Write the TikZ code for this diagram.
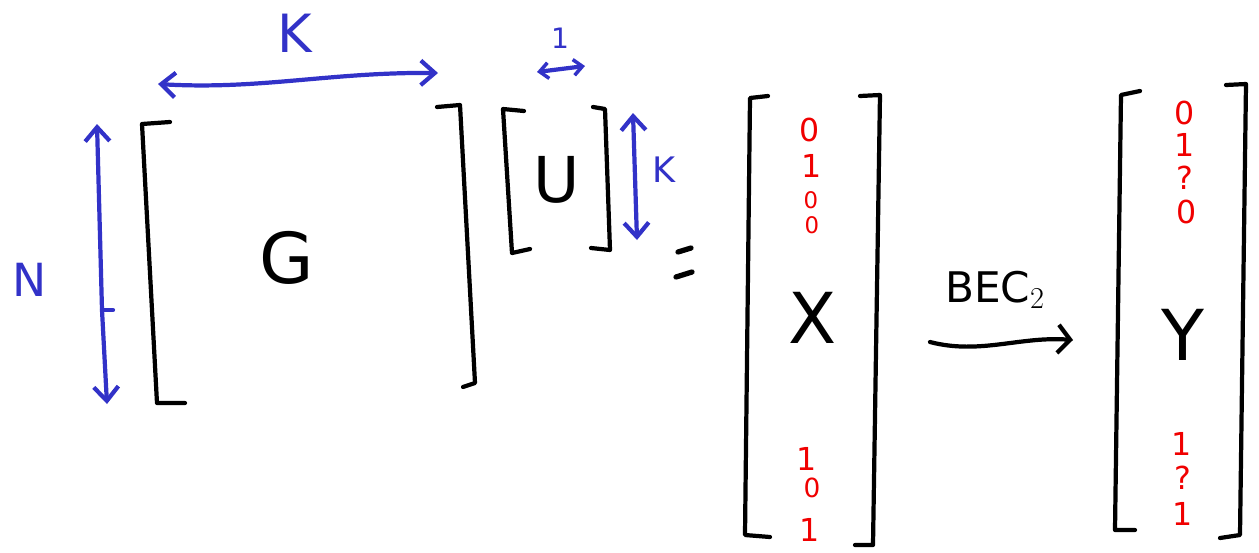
\documentclass[tikz,border=0pt]{standalone}
\usepackage{fontspec}
\setmainfont{DejaVu Sans}
\usetikzlibrary{arrows.meta}
\definecolor{pen}{RGB}{50,50,200}
\definecolor{redpen}{RGB}{240,0,0}
\tikzset{
  ink/.style={line width=2.4pt,line cap=round,line join=round,black},
  blueink/.style={line width=2.4pt,line cap=round,line join=round,pen},
  dim/.style={blueink,{Straight Barb[length=8pt,width=14pt,line width=2.4pt]}-{Straight Barb[length=8pt,width=14pt,line width=2.4pt]}},
  bigl/.style={font=\fontsize{40}{44}\selectfont,inner sep=0pt},
  bluel/.style={text=pen,font=\fontsize{30}{34}\selectfont,inner sep=0pt},
  bit/.style={text=redpen,font=\fontsize{18}{20}\selectfont,inner sep=0pt},
}
\begin{document}
\begin{tikzpicture}[x=0.02cm,y=-0.02cm]
\useasboundingbox (0,0) rectangle (1259,552);
% G matrix brackets
\draw[ink] (170,122) -- (142,124) -- (157,403) -- (185,403);
\draw[ink] (437,107) -- (460,105) -- (475,383) -- (463,387);
\node[bigl] (G) at (287,258) {G};
% K dimension
\coordinate (k1) at (158,84);
\coordinate (k2) at (438,73);
\draw[dim] (k1) .. controls (260,90) and (330,72) .. (k2);
\node[bluel] (K) at (295,33) {K};
% N dimension
\coordinate (n1) at (97,124);
\coordinate (n2) at (107,404);
\draw[dim] (n1) -- (102,310) -- (n2);
\draw[blueink] (102,310) -- (113,310);
\node[bluel,font=\fontsize{26}{30}\selectfont] (N) at (30,280) {N};
% U matrix
\draw[ink] (524,111) -- (503,109) -- (512,253) -- (530,249);
\draw[ink] (593,107) -- (605,109) -- (610,250) -- (591,248);
\node[bigl,font=\fontsize{36}{40}\selectfont] (U) at (557,180) {U};
\coordinate (o1) at (537,72);
\coordinate (o2) at (585,66);
\draw[blueink,{Straight Barb[length=5pt,width=9pt,line width=2pt]}-{Straight Barb[length=5pt,width=9pt,line width=2pt]}] (o1) -- (o2);
\node[bluel,font=\fontsize{16}{18}\selectfont] (one) at (560,38) {1};
\coordinate (u1) at (633,113);
\coordinate (u2) at (637,240);
\draw[dim] (u1) -- (u2);
\node[bluel,font=\fontsize{20}{22}\selectfont] (k) at (664,170) {K};
% equals
\coordinate (e1) at (678,252);
\coordinate (e2) at (691,248);
\coordinate (e3) at (676,277);
\coordinate (e4) at (692,272);
\draw[ink,line width=3pt] (e1) -- (e2);
\draw[ink,line width=3pt] (e3) -- (e4);
% X vector
\draw[ink] (768,96) -- (750,98) -- (745,535) -- (770,537);
\draw[ink] (860,96) -- (880,95) -- (873,545) -- (855,545);
\node[bigl] (X) at (813,318) {X};
\node[bit] (x1) at (810,130) {0};
\node[bit] (x2) at (812,166) {1};
\node[bit,font=\fontsize{13}{14}\selectfont] (x3) at (811,200) {0};
\node[bit,font=\fontsize{13}{14}\selectfont] (x4) at (812,225) {0};
\node[bit] (x5) at (807,459) {1};
\node[bit,font=\fontsize{15}{16}\selectfont] (x6) at (812,488) {0};
\node[bit] (x7) at (810,530) {1};
% BEC arrow
\node[font=\fontsize{24}{26}\selectfont,inner sep=0pt] (bec) at (995,290) {BEC$_2$};
\coordinate (a1) at (930,342);
\coordinate (a2) at (1073,340);
\draw[ink,-{Straight Barb[length=7pt,width=16pt,line width=2.4pt]}] (a1) .. controls (980,355) and (1020,336) .. (a2);
% Y vector
\draw[ink] (1140,91) -- (1121,95) -- (1115,530) -- (1135,530);
\draw[ink] (1226,85) -- (1246,84) -- (1240,535) -- (1220,538);
\node[bigl] (Y) at (1183,335) {Y};
\node[bit] (y1) at (1185,113) {0};
\node[bit] (y2) at (1185,145) {1};
\node[bit] (y3) at (1185,178) {?};
\node[bit] (y4) at (1187,212) {0};
\node[bit] (y5) at (1182,444) {1};
\node[bit] (y6) at (1183,478) {?};
\node[bit] (y7) at (1183,514) {1};
\end{tikzpicture}
\end{document}
